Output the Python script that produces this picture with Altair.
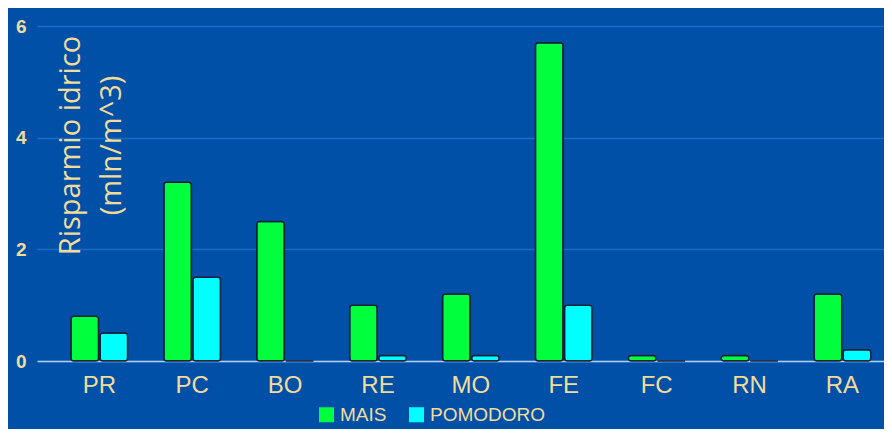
import altair as alt
import pandas as pd

provinces = ["PR", "PC", "BO", "RE", "MO", "FE", "FC", "RN", "RA"]
mais = [0.8, 3.2, 2.5, 1.0, 1.2, 5.7, 0.1, 0.1, 1.2]
pomodoro = [0.5, 1.5, 0.0, 0.1, 0.1, 1.0, 0.0, 0.0, 0.2]
series = ["MAIS", "POMODORO"]
colors = ["#00FF3C", "#00FFFF"]
y_ticks = [0, 2, 4, 6]

rows = []
for p, m, t in zip(provinces, mais, pomodoro):
    rows.append({"prov": p, "coltura": series[0], "val": m})
    rows.append({"prov": p, "coltura": series[1], "val": t})
df = pd.DataFrame(rows)

bg = "#0050A8"
txt = "#F2DC9A"

chart = alt.Chart(df).mark_bar(
    stroke="#10203a", strokeWidth=1.5, cornerRadius=3
).encode(
    x=alt.X("prov:N", sort=provinces,
            scale=alt.Scale(paddingInner=0.39, paddingOuter=0.254, align=0.72),
            axis=alt.Axis(title=None, labelAngle=0, labelFont="Liberation Sans",
                          labelFontSize=24, labelColor=txt, labelPadding=12,
                          ticks=False, domainColor="#B0D0F0", domainWidth=1.5)),
    xOffset=alt.XOffset("coltura:N", sort=series,
                        scale=alt.Scale(paddingInner=0.05, paddingOuter=0)),
    y=alt.Y("val:Q", scale=alt.Scale(domain=[0, 6], nice=False),
            axis=alt.Axis(values=y_ticks, title=["Risparmio idrico", "(mln/m^3)"],
                          titleAngle=270, titleX=19, titleY=119,
                          titleAlign="center", titleBaseline="top",
                          titleFont="Open Sans", titleFontWeight="normal",
                          titleFontSize=29, titleLineHeight=41, titleColor=txt,
                          labelFont="Liberation Sans", labelFontSize=19,
                          labelFontWeight="bold", labelColor=txt, labelPadding=11,
                          ticks=False, domain=False,
                          gridColor="#1A6CC4", gridWidth=1.5)),
    color=alt.Color("coltura:N", sort=series,
                    scale=alt.Scale(domain=series, range=colors),
                    legend=alt.Legend(title=None, orient="none", direction="horizontal",
                                      legendX=280, legendY=379,
                                      symbolType="square", symbolSize=225,
                                      symbolStrokeWidth=0,
                                      labelFont="Liberation Sans", labelFontSize=19,
                                      labelColor=txt, columnPadding=20)),
).properties(
    width=847, height=335,
    autosize=alt.AutoSizeParams(type="none"),
    padding={"left": 29, "top": 18, "right": 0, "bottom": 68},
    background=bg,
).configure_view(stroke=None)

chart.save("out.html", embed_options={"renderer": "svg", "actions": False})
